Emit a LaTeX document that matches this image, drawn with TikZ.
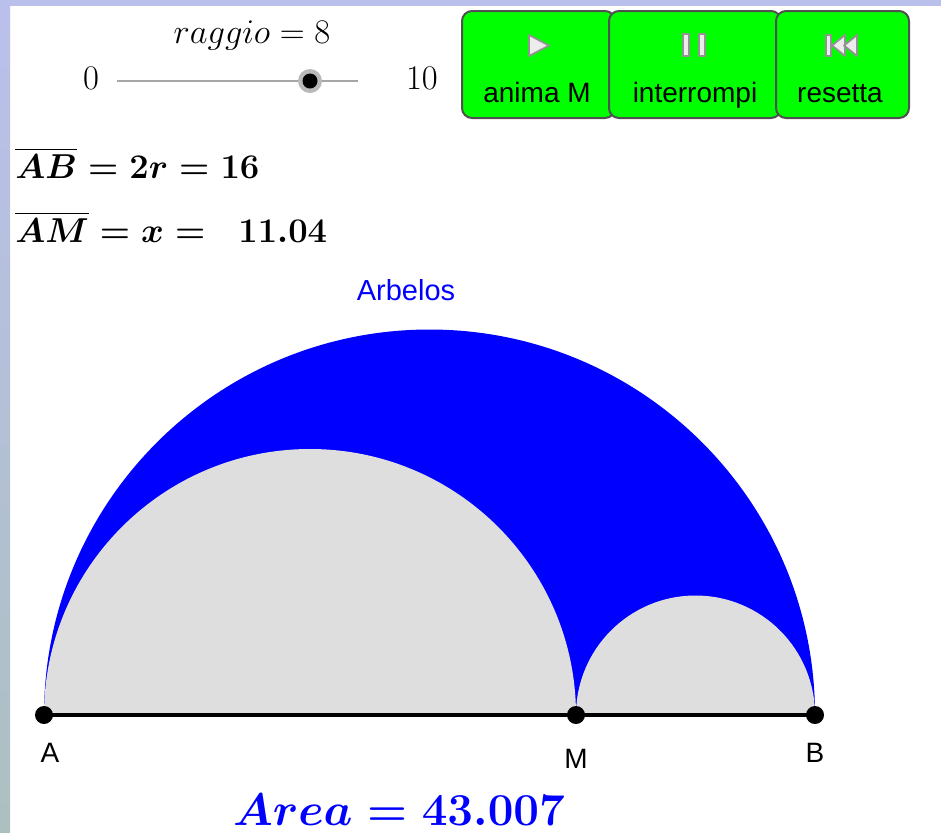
\documentclass[tikz,border=0pt]{standalone}
\usepackage{amsmath, amssymb}
\usepackage{graphicx}
\usepackage{fontspec}
\newfontfamily\arialfont{Liberation Sans}
\usetikzlibrary{calc}

\definecolor{geoblue}{RGB}{0,0,255}
\definecolor{geogray}{RGB}{222,222,222}
\definecolor{btngreen}{RGB}{0,255,0}
\definecolor{btnedge}{RGB}{80,80,80}
\definecolor{bandtop}{RGB}{186,192,236}
\definecolor{bandmid}{RGB}{210,218,250}
\definecolor{bandbot}{RGB}{172,192,192}

\begin{document}
\begin{tikzpicture}[x=0.5pt, y=-0.5pt,
    btn/.style={draw=btnedge, line width=1pt, fill=btngreen, rounded corners=5pt, minimum height=53.5pt, inner sep=0pt},
    btntext/.style={font=\arialfont\fontsize{14}{16}\selectfont, anchor=base},
    icon/.style={fill=gray!15, draw=gray!85, line width=0.9pt, line join=round},
    pt/.style={circle, fill=black, inner sep=0pt, minimum size=9pt},
    ptlabel/.style={font=\arialfont\fontsize{14}{16}\selectfont, anchor=base},
    mathtext/.style={font=\fontsize{17.28}{20}\selectfont, anchor=base west, inner sep=0pt}]
    \useasboundingbox (0,0) rectangle (941,832);
    \fill[white] (0,0) rectangle (941,832);
    \fill[bandtop] (0,0) rectangle (941,6);
    \shade[top color=bandtop, middle color=bandmid, bottom color=bandbot] (0,0) rectangle (10,832);

    % slider
    \coordinate (s0) at (117,81);
    \coordinate (s10) at (358,81);
    \draw[gray!70, line width=1pt] (s0) -- (s10);
    \node[circle, fill=gray!55, inner sep=0pt, minimum size=12pt] (halo) at (310,81) {};
    \node[circle, fill=black, inner sep=0pt, minimum size=7.5pt] (knob) at (halo) {};
    \node[mathtext, anchor=base] (raggio) at (252,43) {$raggio = 8$};
    \node[mathtext, anchor=base] (lo) at (91,89) {$0$};
    \node[mathtext, anchor=base] (hi) at (422,89) {$10$};

    % buttons
    \node[btn, minimum width=76.5pt] (bplay) at (538.5,64.5) {};
    \node[btn, minimum width=86pt] (bpause) at (695,64.5) {};
    \node[btn, minimum width=66.5pt] (breset) at (842.5,64.5) {};
    \filldraw[icon] (529,35) -- (529,56) -- (549,45.5) -- cycle;
    \filldraw[icon] (683,34) rectangle (689,56);
    \filldraw[icon] (699,34) rectangle (705,56);
    \filldraw[icon] (826,35) rectangle (831,56);
    \filldraw[icon] (832,45.5) -- (845,35) -- (845,56) -- cycle;
    \filldraw[icon] (844,45.5) -- (857,35) -- (857,56) -- cycle;
    \node[btntext] (tplay) at (537,102) {anima M};
    \node[btntext] (tpause) at (695,102) {interrompi};
    \node[btntext] (treset) at (840,102) {resetta};

    \node[mathtext] (ab) at (15,178) {{\boldmath$\overline{AB} = 2r = 16$}};
    \node[mathtext] (am) at (15,242) {{\boldmath$\overline{AM} = x = \mkern10mu 11.04$}};

    % arbelos
    \coordinate (A) at (44,715);
    \coordinate (M) at (576,715);
    \coordinate (B) at (815,715);
    \fill[geoblue] (A) arc[start angle=180, end angle=360, radius=385.5] -- cycle;
    \fill[geogray] (A) arc[start angle=180, end angle=360, radius=266] -- cycle;
    \fill[geogray] (M) arc[start angle=180, end angle=360, radius=119.5] -- cycle;
    \draw[line width=2pt] (A) -- (B);
    \node[pt] (dotA) at (A) {};
    \node[pt] (dotM) at (M) {};
    \node[pt] (dotB) at (B) {};
    \node[ptlabel] (labA) at (50,762) {A};
    \node[ptlabel] (labM) at (576,768) {M};
    \node[ptlabel] (labB) at (815,762) {B};
    \node[font=\arialfont\fontsize{14.5}{17}\selectfont, text=geoblue, anchor=base] (arbelos) at (406,300) {Arbelos};
    \node[font=\fontsize{24.88}{28}\selectfont, text=geoblue, anchor=base, inner sep=0pt] (area) at (399,825) {\scalebox{0.918}{{\boldmath$Area = 43.007$}}};
\end{tikzpicture}
\end{document}
